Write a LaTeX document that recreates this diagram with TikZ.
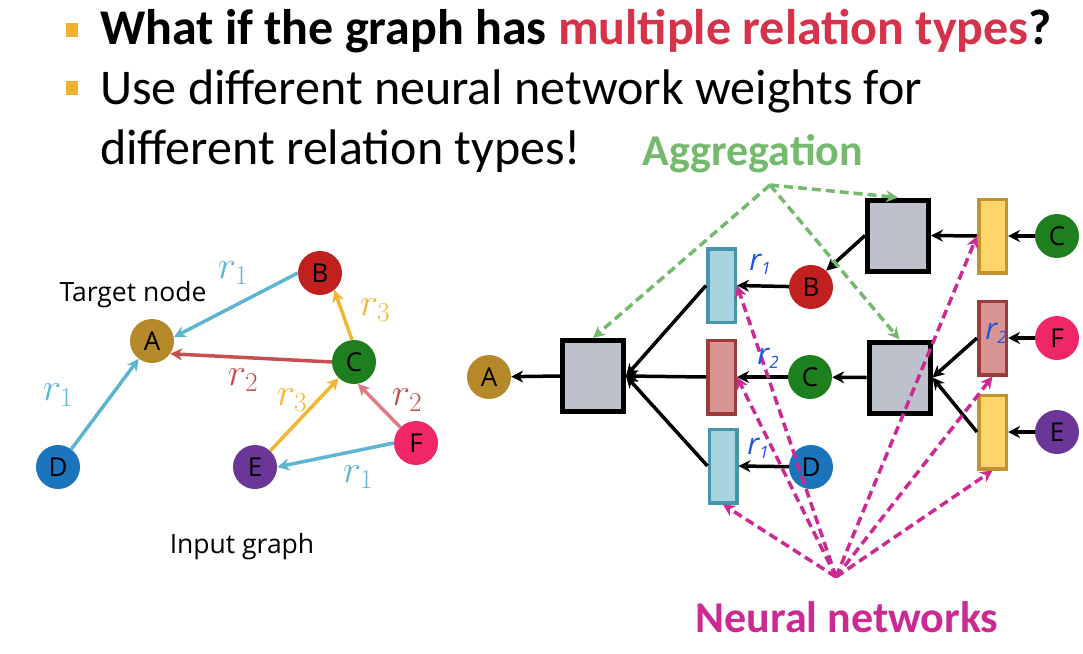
\RequirePackage{fix-cm}
\documentclass[tikz,border=0pt]{standalone}
\usepackage{fontspec}
\setmainfont{Carlito}
\newfontfamily\osans{Open Sans}
\usetikzlibrary{arrows.meta}
\definecolor{cA}{HTML}{B5882A}
\definecolor{cB}{HTML}{C0201E}
\definecolor{cC}{HTML}{1E7F1E}
\definecolor{cD}{HTML}{1C74BC}
\definecolor{cE}{HTML}{6C3699}
\definecolor{cF}{HTML}{F02767}
\definecolor{ecyan}{HTML}{5DB6CF}
\definecolor{eorange}{HTML}{F2B632}
\definecolor{ered}{HTML}{C5504F}
\definecolor{epink}{HTML}{E07A84}
\definecolor{aggr}{HTML}{74B96D}
\definecolor{nn}{HTML}{CC2A93}
\definecolor{titlered}{HTML}{D6334A}
\definecolor{bullet}{HTML}{F0B030}
\definecolor{sqfill}{HTML}{BCC1CB}
\definecolor{cyfill}{HTML}{A8D4E0}
\definecolor{cydraw}{HTML}{4895AB}
\definecolor{rdfill}{HTML}{D99594}
\definecolor{rddraw}{HTML}{9B3B3A}
\definecolor{ylfill}{HTML}{FDD56A}
\definecolor{yldraw}{HTML}{C39230}
\definecolor{hand}{HTML}{1F56E0}
\newcommand{\handr}[1]{{\osans\itshape\fontsize{30}{30}\selectfont r\raisebox{-4pt}{\fontsize{17}{17}\selectfont #1}}}
\newcommand{\rlab}[1]{{\fontsize{39}{39}\selectfont$r_{#1}$}}
\tikzset{
  gnode/.style={circle, minimum size=44pt, inner sep=0pt, font=\osans\fontsize{26}{26}\selectfont},
  sqbox/.style={draw=black, line width=5pt, fill=sqfill, minimum width=61pt, minimum height=71pt, inner sep=0pt},
  nnbox/.style={line width=3.5pt, minimum width=27.5pt, minimum height=73.5pt, inner sep=0pt},
  cybox/.style={nnbox, draw=cydraw, fill=cyfill},
  rdbox/.style={nnbox, draw=rddraw, fill=rdfill},
  ylbox/.style={nnbox, draw=yldraw, fill=ylfill},
  earr/.style={line width=3.5pt, -{Stealth[length=12pt,width=12pt]}},
  barr/.style={line width=3.5pt, black, -{Stealth[length=12pt,width=12pt]}},
  garr/.style={line width=3.5pt, aggr, dash pattern=on 9pt off 5pt, -{Stealth[length=12pt,width=12pt]}},
  marr/.style={line width=3.5pt, nn, dash pattern=on 9pt off 5pt, -{Stealth[length=12pt,width=12pt]}},
  lbl/.style={inner sep=0pt, font=\osans\fontsize{26.5}{26.5}\selectfont},
}
\begin{document}
\begin{tikzpicture}[x=1pt,y=-1pt]
\useasboundingbox (0,0) rectangle (1083,653);
% title
\fill[bullet] (66,23) rectangle (78,37);
\fill[bullet] (66,81) rectangle (78,95);
\node[anchor=base west, inner sep=0pt, font=\bfseries\fontsize{50}{50}\selectfont] (t1) at (100,44) {What if the graph has \textcolor{titlered}{multiple relation types}?};
\node[anchor=base west, inner sep=0pt, font=\fontsize{50}{50}\selectfont] (t2) at (100,104) {Use different neural network weights for};
\node[anchor=base west, inner sep=0pt, font=\fontsize{50}{50}\selectfont] (t3) at (100,164) {different relation types!};
\node[anchor=base, inner sep=0pt, text=aggr, font=\bfseries\fontsize{44}{44}\selectfont] (agg) at (753,165) {Aggregation};
\node[anchor=base, inner sep=0pt, text=nn, font=\bfseries\fontsize{44}{44}\selectfont] (nnt) at (847,632) {Neural networks};
% left graph
\node[gnode, fill=cA] (lA) at (152,341) {A};
\node[gnode, fill=cB] (lB) at (320,273) {B};
\node[gnode, fill=cC] (lC) at (354,362) {C};
\node[gnode, fill=cD] (lD) at (58,467) {D};
\node[gnode, fill=cE] (lE) at (255,467) {E};
\node[gnode, fill=cF] (lF) at (416,443) {F};
\draw[earr, ecyan] (lB.west) -- (lA.10);
\draw[earr, eorange] (lC.95) -- (lB.-50);
\draw[earr, ered] (lC.west) -- (lA.-35);
\draw[earr, ecyan] (lD) -- (lA);
\draw[earr, eorange] (lE) -- (lC);
\draw[earr, epink] (lF.135) -- (lC.-80);
\draw[earr, ecyan] (lF.west) -- (lE.east);
\node[text=ecyan] (r1a) at (233,273) {\rlab{1}};
\node[text=eorange] (r3a) at (375,310) {\rlab{3}};
\node[text=ered] (r2a) at (243,380) {\rlab{2}};
\node[text=ecyan] (r1b) at (58,395) {\rlab{1}};
\node[text=eorange] (r3b) at (292,400) {\rlab{3}};
\node[text=ered] (r2b) at (407,400) {\rlab{2}};
\node[text=ecyan] (r1c) at (358,477) {\rlab{1}};
\node[lbl] (tn) at (133,295) {Target node};
\node[lbl] (ig) at (242,547) {Input graph};
% right network
\node[gnode, fill=cA] (rA) at (489,377) {A};
\node[sqbox] (sqA) at (593,376) {};
\node[cybox] (cyT) at (721.5,285.5) {};
\node[rdbox] (rdM) at (721.5,377) {};
\node[cybox] (cyB) at (723,466) {};
\node[gnode, fill=cB] (rB) at (811,287) {B};
\node[gnode, fill=cC] (rC) at (810,377) {C};
\node[gnode, fill=cD] (rD) at (811,467) {D};
\node[sqbox] (sqT) at (898,235.5) {};
\node[sqbox] (sqM) at (899.5,377.5) {};
\node[ylbox] (ylT) at (992.5,236) {};
\node[rdbox] (pkM) at (992.5,338) {};
\node[ylbox] (ylB) at (992.5,432) {};
\node[gnode, fill=cC] (rC2) at (1057,236) {C};
\node[gnode, fill=cF] (rF) at (1057,338) {F};
\node[gnode, fill=cE] (rE) at (1057,432) {E};
\draw[barr] (sqA.west) -- (rA);
\draw[barr] (cyT.west) -- (sqA.east);
\draw[barr] (rdM.west) -- (sqA.east);
\draw[barr] (cyB.west) -- (sqA.east);
\draw[barr] (rB) -- (cyT.east);
\draw[barr] (rC) -- (rdM.east);
\draw[barr] (rD) -- (cyB.east);
\draw[barr] (sqT.west) -- (rB.47);
\draw[barr] (sqM.west) -- (rC);
\draw[barr] (ylT.west) -- (sqT.east);
\draw[barr] (pkM.west) -- (sqM.east);
\draw[barr] (ylB.west) -- (sqM.east);
\draw[barr] (rC2) -- (ylT.east);
\draw[barr] (rF) -- (pkM.east);
\draw[barr] (rE) -- (ylB.east);
% aggregation arrows
\coordinate (gap) at (770,185);
\draw[garr] (gap) -- (sqA.north);
\draw[garr] (gap) -- (sqT.north);
\draw[garr] (gap) -- (sqM.north);
% neural network arrows
\coordinate (nap) at (836,577);
\draw[marr] (nap) -- (cyB.south);
\draw[marr] (nap) -- (cyT.east);
\draw[marr] (nap) -- (rdM.east);
\draw[marr] (nap) -- (ylT.west);
\draw[marr] (nap) -- (pkM.south);
\draw[marr] (nap) -- (ylB.south);
% handwritten labels
\node[text=hand, inner sep=0pt] (h1) at (760,264) {\handr{1}};
\node[text=hand, inner sep=0pt] (h2) at (768,358) {\handr{2}};
\node[text=hand, inner sep=0pt] (h3) at (758,448) {\handr{1}};
\node[text=hand, inner sep=0pt] (h4) at (996,333) {\handr{2}};
\end{tikzpicture}
\end{document}
